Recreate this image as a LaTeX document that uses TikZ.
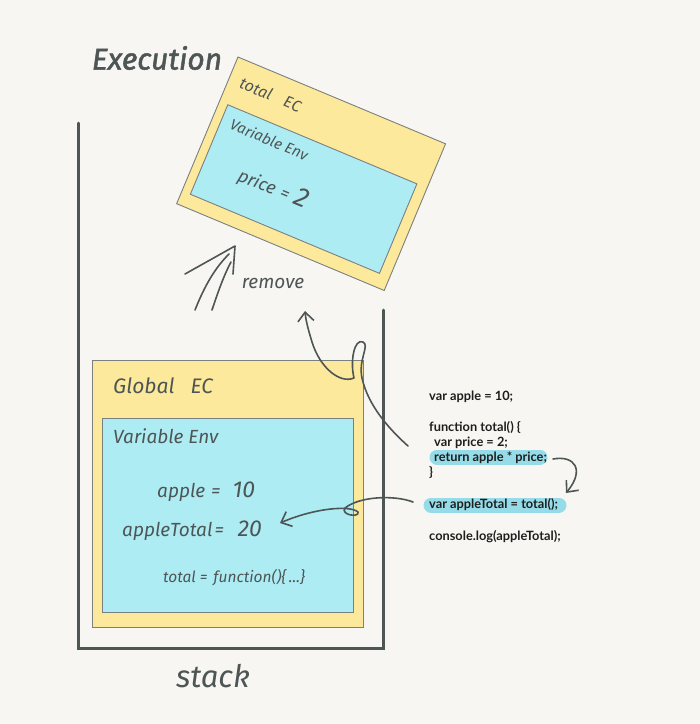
\documentclass[tikz,border=0pt]{standalone}
\usepackage{fontspec}
\setmainfont{Lato}
\newfontfamily\hand{Fira Sans}
\newfontfamily\handbold{Fira Sans}[ItalicFeatures={FakeBold=1.6}]
\usetikzlibrary{arrows.meta}
\definecolor{bg}{HTML}{F7F6F2}
\definecolor{ecyellow}{HTML}{FDE99B}
\definecolor{envblue}{HTML}{AEECF4}
\definecolor{edge}{HTML}{7A8080}
\definecolor{ink}{HTML}{4D5555}
\definecolor{hilite}{HTML}{95DCE8}
\definecolor{codeink}{HTML}{1E1E1E}
\tikzset{
  ecbox/.style={fill=ecyellow, draw=edge, line width=0.9pt},
  envbox/.style={fill=envblue, draw=edge, line width=0.9pt},
  stackline/.style={draw=ink, line width=3pt},
  handtxt/.style={text=ink, font=\hand\itshape, inner sep=0pt},
  codetxt/.style={text=codeink, font=\fontsize{12.8}{15}\selectfont\bfseries, anchor=west, inner sep=0pt},
  pen/.style={draw=ink, line width=1.6pt, line cap=round, line join=round},
  penarrow/.style={pen, -{Straight Barb[length=9pt,width=16pt,line width=1.6pt]}},
  hlmark/.style={draw=hilite, line width=15pt, line cap=round}
}
\begin{document}
\begin{tikzpicture}[x=1pt,y=-1pt]
\fill[bg] (0,0) rectangle (700,724);
\useasboundingbox (0,0) rectangle (700,724);

% title
\node[handtxt, font=\handbold\itshape\fontsize{30}{32}\selectfont] (exec) at (157,58) {Execution};

% stack
\coordinate (stl) at (78,123);
\coordinate (sbl) at (78,648);
\coordinate (sbr) at (383,648);
\coordinate (str) at (383,310);
\draw[stackline, line cap=round] (stl) -- (sbl) -- (sbr) -- (str);
\node[handtxt, font=\hand\itshape\fontsize{31}{34}\selectfont] (stack) at (213,676) {stack};

% global EC
\node[ecbox, minimum width=271pt, minimum height=267pt, anchor=north west, inner sep=0pt] (gec) at (92,360) {};
\node[envbox, minimum width=251pt, minimum height=194pt, anchor=north west, inner sep=0pt] (genv) at (102,418) {};
\node[handtxt, font=\hand\itshape\fontsize{21}{24}\selectfont, anchor=west] (gtitle) at (113,386) {Global\hspace{16pt}EC};
\node[handtxt, font=\hand\itshape\fontsize{19}{22}\selectfont, anchor=west] (gvar) at (113,436) {Variable Env};
\node[handtxt, font=\hand\itshape\fontsize{19}{22}\selectfont, anchor=west] (gapple) at (157,492) {apple\hspace{6pt}=\hspace{12pt}{\fontsize{23}{24}\selectfont 10}};
\node[handtxt, font=\hand\itshape\fontsize{19}{22}\selectfont, anchor=west] (gtotal) at (122,531) {appleTotal\hspace{2pt}=\hspace{14pt}{\fontsize{23}{24}\selectfont 20}};
\node[handtxt, font=\hand\itshape\fontsize{15.5}{17}\selectfont, anchor=west] (gfun) at (163,578) {total\hspace{4pt}=\hspace{6pt}function()\{\,...\}};

% total EC (rotated, being removed)
\begin{scope}[shift={(238,57)}, rotate=-22.7]
  \draw[ecbox] (0,0) rectangle (225,159);
  \draw[envbox] (9,48) rectangle (214,145);
  \node[handtxt, font=\hand\itshape\fontsize{16}{18}\selectfont, anchor=west, rotate=-22.7] (ttitle) at (12,22) {total\hspace{14pt}EC};
  \node[handtxt, font=\hand\itshape\fontsize{15}{18}\selectfont, anchor=west, rotate=-22.7] (tvar) at (19,64) {Variable Env};
  \node[handtxt, font=\hand\itshape\fontsize{18}{20}\selectfont, anchor=west, rotate=-22.7] (tprice) at (46,107) {price\hspace{6pt}=\hspace{6pt}{\fontsize{27}{28}\selectfont 2}};
\end{scope}

% remove arrow (double stroke)
\coordinate (rtip) at (235,246);
\coordinate (rwl) at (185,274);
\coordinate (rwr) at (233,274);
\coordinate (rs1) at (195,310);
\coordinate (rs2) at (212,310);
\draw[pen] (rwl) -- (rtip) -- (rwr);
\draw[pen] (rs1) .. controls (205,285) and (215,268) .. (229,254);
\draw[pen] (rs2) .. controls (218,292) and (224,275) .. (231,262);
\node[handtxt, font=\hand\itshape\fontsize{19}{22}\selectfont] (remove) at (273,283) {remove};

% code highlights
\draw[hlmark] (437,457) -- (540,457);
\draw[hlmark] (431,505) -- (559,505);

% code
\node[codetxt] (c1) at (429,397) {var apple = 10;};
\node[codetxt] (c2) at (429,427) {function total() \{};
\node[codetxt] (c3) at (434,443) {var price = 2;};
\node[codetxt] (c4) at (434,458) {return apple * price;};
\node[codetxt] (c5) at (429,473) {\}};
\node[codetxt] (c6) at (429,505) {var appleTotal = total();};
\node[codetxt] (c7) at (429,537) {console.log(appleTotal);};

% arrow: return -> up to removed EC
\coordinate (a1s) at (408,446);
\coordinate (a1e) at (305,311);
\draw[penarrow] (a1s) .. controls (388,428) and (368,405) .. (362,378)
  .. controls (358,360) and (370,345) .. (363,342)
  .. controls (354,338) and (350,362) .. (354,378)
  .. controls (340,384) and (320,368) .. (312,342)
  .. controls (309,332) and (306,322) .. (a1e);

% arrow: return -> var appleTotal
\coordinate (a2s) at (553,459);
\coordinate (a2e) at (566,493);
\draw[penarrow] (a2s) .. controls (575,455) and (585,470) .. (a2e);

% arrow: var appleTotal -> appleTotal = 20
\coordinate (a3s) at (413,502);
\coordinate (a3e) at (280,523);
\draw[penarrow] (a3s) .. controls (395,495) and (360,496) .. (345,508)
  .. controls (340,515) and (360,518) .. (358,512)
  .. controls (350,505) and (315,508) .. (a3e);
\end{tikzpicture}
\end{document}
